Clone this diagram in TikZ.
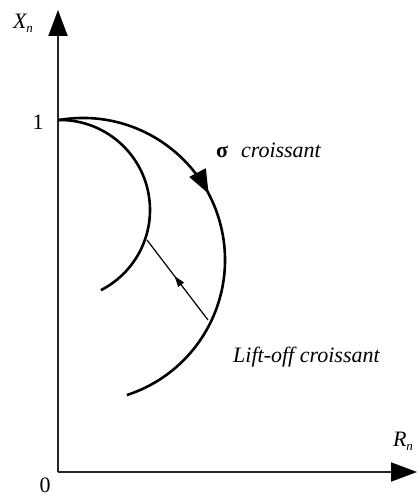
\documentclass[tikz,border=0pt]{standalone}
\usepackage{fontspec}
\setmainfont{Liberation Serif}
\usetikzlibrary{arrows.meta,decorations.markings}
\begin{document}
\begin{tikzpicture}[x=1pt,y=1pt,
  axis/.style={line width=2pt,draw=black!85,-{Triangle[length=26pt,width=19pt,fill=black,color=black]}},
  curve/.style={line width=2.6pt,draw=black},
  lbl/.style={inner sep=0pt,font=\fontsize{22}{26}\selectfont\itshape},
  num/.style={inner sep=0pt,font=\fontsize{22}{26}\selectfont}]
\useasboundingbox (0,0) rectangle (417,497);
\coordinate (O) at (58,25);
\coordinate (ytip) at (58,487);
\coordinate (xtip) at (417,25);
\draw[axis] (O) -- (ytip);
\draw[axis] (O) -- (xtip);
% outer curve
\draw[curve,postaction={decorate},decoration={markings,
  mark=at position 0.42 with {\arrow{Triangle[length=24pt,width=18pt]}}}]
  (83,237) ++(100:142) arc[start angle=100,end angle=-72,radius=142];
% inner curve
\draw[curve] (60,287) ++(91:90) arc[start angle=91,end angle=-63,radius=90];
% lift-off arrow
\coordinate (a) at (208,177);
\coordinate (b) at (147,257);
\draw[line width=1.2pt,postaction={decorate},decoration={markings,
  mark=at position 0.55 with {\arrow{Triangle[length=11pt,width=7pt]}}}] (a) -- (b);
\node[lbl] (xn) at (23,474) {X\raisebox{-0.4ex}{\fontsize{13}{15}\selectfont n}};
\node[lbl] (rn) at (403,56) {R\raisebox{-0.4ex}{\fontsize{13}{15}\selectfont n}};
\node[num] (one) at (38,375) {1};
\node[num] (zero) at (45,12) {0};
\node[lbl,anchor=west] (sig) at (216,347) {{\upshape\bfseries σ}\,\, croissant};
\node[lbl,anchor=west] (lift) at (233,140) {Lift-off croissant};
\end{tikzpicture}
\end{document}
